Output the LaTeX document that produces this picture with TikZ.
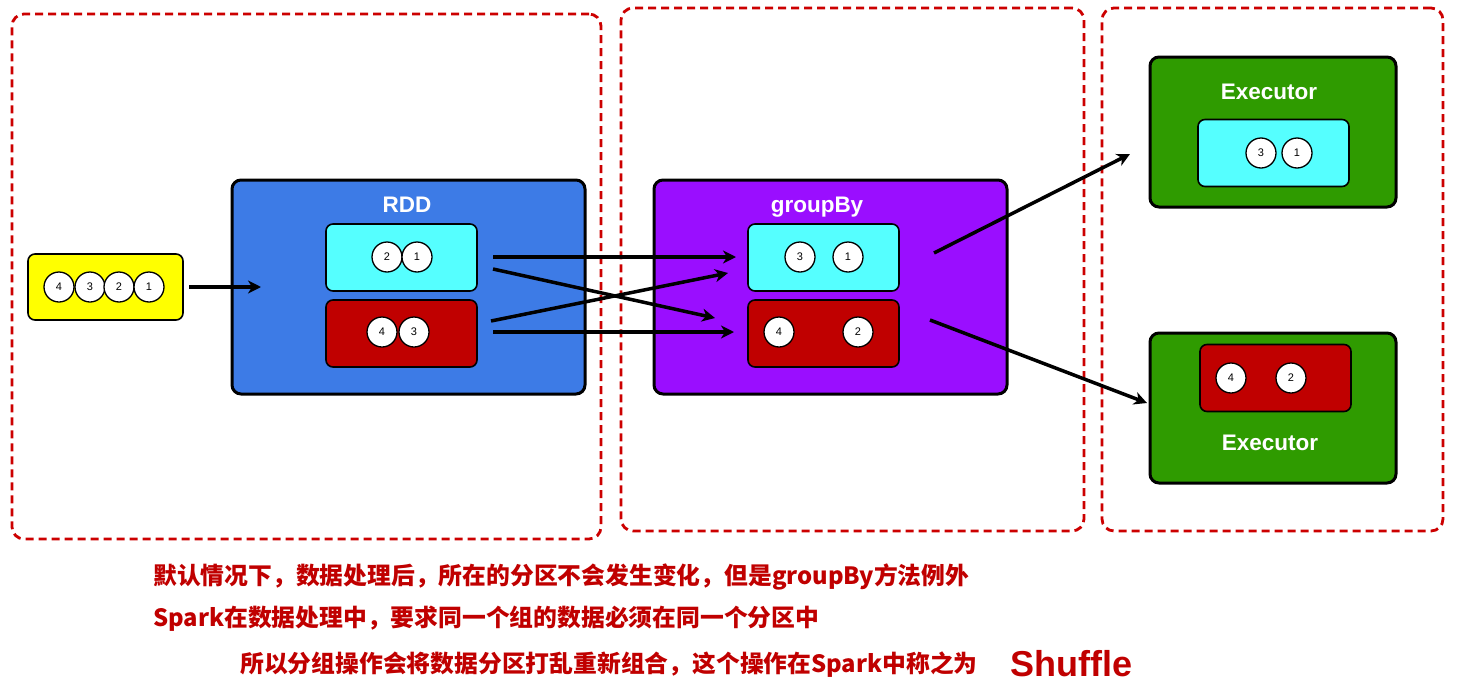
\documentclass[tikz,border=0pt]{standalone}
\usepackage{fontspec}
\setmainfont{Liberation Sans}
\newfontfamily\cjk{Noto Sans CJK SC}
\usetikzlibrary{arrows.meta}
\definecolor{frameRed}{HTML}{CC0000}
\definecolor{rddBlue}{HTML}{3D7BE6}
\definecolor{cyanP}{HTML}{55FFFF}
\definecolor{redP}{HTML}{C00000}
\definecolor{purpleG}{HTML}{9A0EFF}
\definecolor{greenE}{HTML}{2F9B00}
\definecolor{yellowS}{HTML}{FFFF00}
\definecolor{txtRed}{HTML}{C00000}
\tikzset{
  frame/.style={draw=frameRed, line width=2.8pt, dash pattern=on 8pt off 5pt, rounded corners=12pt},
  bigbox/.style={draw=black, line width=3pt, rounded corners=9pt},
  part/.style={draw=black, line width=1.6pt, rounded corners=7pt, minimum width=151pt, minimum height=67pt},
  ball/.style={circle, draw=black, fill=white, line width=1.3pt, minimum size=30pt, inner sep=0pt, font=\fontsize{11}{11}\selectfont},
  title/.style={text=white, font=\fontsize{22.5}{22.5}\selectfont\bfseries},
  flow/.style={draw=black, line width=3.5pt, -{Stealth[length=13pt,width=13pt,inset=4pt]}},
  note/.style={text=txtRed, anchor=west, inner sep=0pt, font=\cjk\bfseries\fontsize{23.8}{23.8}\selectfont}
}
\begin{document}
\begin{tikzpicture}[x=1pt,y=-1pt]
\useasboundingbox (0,0) rectangle (1457,699);
% frames
\node[frame, minimum width=589pt, minimum height=525pt] (f1) at (306.5,276.5) {};
\node[frame, minimum width=463pt, minimum height=523pt] (f2) at (852.5,269.5) {};
\node[frame, minimum width=341pt, minimum height=523pt] (f3) at (1272.5,269.5) {};
% source
\node[draw=black, line width=1.6pt, rounded corners=7pt, fill=yellowS, minimum width=155pt, minimum height=66pt] (src) at (105.5,287) {};
\node[ball] (s4) at (59,287) {4};
\node[ball] (s3) at (90,287) {3};
\node[ball] (s2) at (119,287) {2};
\node[ball] (s1) at (149,287) {1};
% RDD
\node[bigbox, fill=rddBlue, minimum width=353pt, minimum height=214pt] (rdd) at (408.5,287) {};
\node[title] (rddt) at (407,205) {RDD};
\node[part, fill=cyanP] (rp1) at (401.5,257.5) {};
\node[part, fill=redP] (rp2) at (401.5,333.5) {};
\node[ball] (r2) at (387,257) {2};
\node[ball] (r1) at (417,257) {1};
\node[ball] (r4) at (382,332) {4};
\node[ball] (r3) at (414,332) {3};
% groupBy
\node[bigbox, fill=purpleG, minimum width=353pt, minimum height=214pt] (gb) at (830.5,287) {};
\node[title] (gbt) at (817,207) {groupBy};
\node[part, fill=cyanP] (gp1) at (823.5,257.5) {};
\node[part, fill=redP] (gp2) at (823.5,333.5) {};
\node[ball] (g3) at (800,257) {3};
\node[ball] (g1) at (848,257) {1};
\node[ball] (g4) at (779,332) {4};
\node[ball] (g2) at (858,332) {2};
% executors
\node[bigbox, fill=greenE, minimum width=246pt, minimum height=150pt] (ex1) at (1273,132) {};
\node[title] (ex1t) at (1269,92) {Executor};
\node[part, fill=cyanP] (ep1) at (1273.5,153) {};
\node[ball] (e3) at (1261,153) {3};
\node[ball] (e1) at (1297,153) {1};
\node[bigbox, fill=greenE, minimum width=246pt, minimum height=150pt] (ex2) at (1273,408) {};
\node[part, fill=redP] (ep2) at (1275.5,378) {};
\node[ball] (e4) at (1231,378) {4};
\node[ball] (e2) at (1291,378) {2};
\node[title] (ex2t) at (1270,443) {Executor};
% connector ends
\coordinate (a0s) at (189,287);
\coordinate (a0e) at (261,287);
\coordinate (a1s) at (493,257);
\coordinate (a1e) at (736,257);
\coordinate (a2s) at (493,269);
\coordinate (a2e) at (715,318);
\coordinate (a3s) at (491,321);
\coordinate (a3e) at (728,273);
\coordinate (a4s) at (493,332);
\coordinate (a4e) at (734,332);
\coordinate (a5s) at (934,253);
\coordinate (a5e) at (1130,154);
\coordinate (a6s) at (930,320);
\coordinate (a6e) at (1147,403);
\draw[flow] (a0s) -- (a0e);
\draw[flow] (a1s) -- (a1e);
\draw[flow] (a2s) -- (a2e);
\draw[flow] (a3s) -- (a3e);
\draw[flow] (a4s) -- (a4e);
\draw[flow] (a5s) -- (a5e);
\draw[flow] (a6s) -- (a6e);
% notes
\node[note] (n1) at (153,577) {默认情况下，数据处理后，所在的分区不会发生变化，但是groupBy方法例外};
\node[note] (n2) at (153,619) {Spark在数据处理中，要求同一个组的数据必须在同一个分区中};
\node[note] (n3) at (240,665) {所以分组操作会将数据分区打乱重新组合，这个操作在Spark中称之为};
\node[note, font=\bfseries\fontsize{36}{36}\selectfont] (n4) at (1010,664) {Shuffle};
\end{tikzpicture}
\end{document}
